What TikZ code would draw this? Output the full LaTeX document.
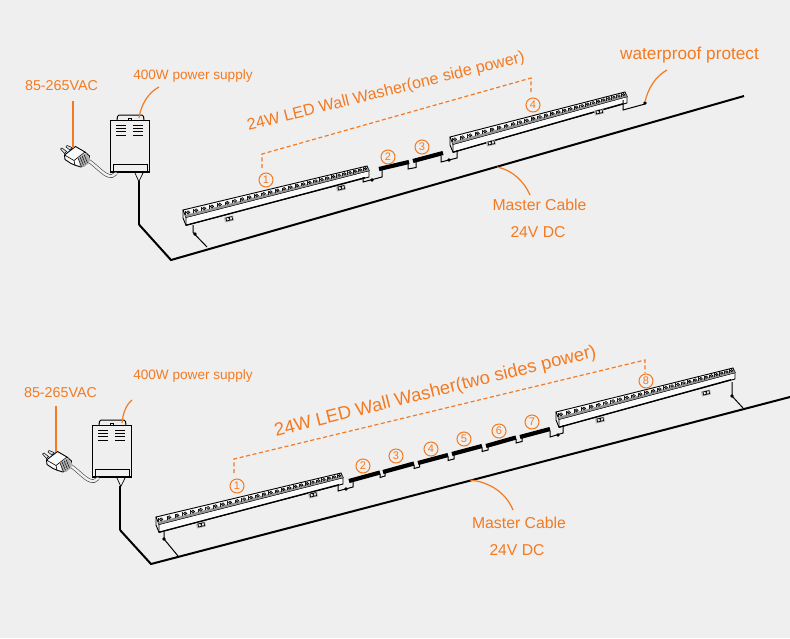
\documentclass[tikz,border=0pt]{standalone}
\usepackage{fontspec}
\setmainfont{Liberation Sans}
\definecolor{bgc}{HTML}{EFEFEF}
\definecolor{org}{HTML}{F47A22}
\newcommand{\fs}[1]{\fontsize{#1}{#1}\selectfont}
\tikzset{
 lbl/.style={text=org,inner sep=0pt,font=\fs{#1}},
 lead/.style={draw=org,line width=1.2pt},
 dashlead/.style={draw=org,line width=1.2pt,dash pattern=on 4pt off 2.6pt},
 num/.style={circle,draw=org,line width=1pt,text=org,inner sep=0pt,minimum size=14pt,font=\fs{11}},
 wirel/.style={draw=black,line width=1pt},
 dark/.style={draw=black,line width=4.2pt},
 blob/.style={fill=black,inner sep=0pt,minimum size=3.6pt,circle}
}
% washer: x0 y0 dx dy-up
\newcommand{\washer}[4]{%
 \pgfmathsetmacro{\sl}{#4/#3}%
 \begin{scope}[shift={(#1,#2)},x={(1pt,\sl pt)},y={(0pt,-1pt)}]
  \def\LL{#3}
  \draw[line width=.9pt,fill=white!70!bgc] (3,8) -- (\LL+2,5) -- (\LL+2,11.5) -- (3,16) -- cycle;
  \draw[line width=.9pt,fill=white!60!bgc] (0,0) -- (\LL,0) -- (\LL+2,5) -- (3,8) -- cycle;
  \fill[black!42] (3,8) -- (\LL+2,5) -- (\LL+1,2.8) -- (2,5.4) -- cycle;
  \draw[line width=.9pt] (0,0) -- (0,8) -- (3,16);
  \draw[line width=1.3pt] (3,16) -- (\LL-2,11.2);
  \foreach \i in {1,...,28}{
   \pgfmathsetmacro{\t}{(\i-.5)/28}
   \pgfmathsetmacro{\u}{\LL*(1.25*\t-.25*\t*\t)+1}
   \pgfmathsetmacro{\v}{3.6-1.4*\t}
   \pgfmathsetmacro{\rr}{1.8-.5*\t}
   \draw[line width=.6pt,black!90] (\u-2.4,\v-1.7) -- (\u-2.4,\v+1.9);
   \draw[line width=.6pt,fill=white] (\u,\v) ellipse ({\rr pt} and {.85*\rr pt});
   \fill[black!80] (\u,\v+.2) ellipse ({.5*\rr pt} and {.45*\rr pt});
  }
 \end{scope}}
\newcommand{\bracket}[2]{%
 \begin{scope}[shift={(#1,#2)}]
  \fill[black!28] (-5,-1.5) -- (4,-3.5) -- (5,1.5) -- (-4,3.5) -- cycle;
  \draw[line width=.7pt,fill=bgc] (-3,-1) -- (-.2,-1.7) -- (.4,1.3) -- (-2.4,2) -- cycle;
  \draw[line width=.7pt,fill=bgc] (.3,-1.8) -- (3,-2.4) -- (3.6,.6) -- (.9,1.2) -- cycle;
 \end{scope}}
% PSU and plug drawn for the top panel, shifted for the bottom one
\newcommand{\psuplug}[2]{%
 \begin{scope}[shift={(#1,#2)}]
  \draw[line width=1pt] (117,120) -- (117.5,116.5) -- (119,115) -- (142,115) -- (143.5,116.5) -- (144,120);
  \draw[line width=.8pt,fill=bgc] (128,120) -- (128,118) -- (131,118) -- (131,120);
  \node[draw=black,line width=1.1pt,fill=bgc,minimum width=38.5pt,minimum height=52pt,inner sep=0pt,anchor=north west] (psu#1) at (110.3,120) {};
  \node[draw=black,line width=1pt,fill=bgc,minimum width=34pt,minimum height=7.5pt,inner sep=0pt,anchor=north west] (psuw#1) at (112.5,164) {};
  \draw[line width=1.8pt] (110.5,172) -- (148.5,172);
  \foreach \yy in {125,128.3,131.6,135.2}{
    \draw[line width=1pt] (116,\yy) -- (126,\yy);
    \draw[line width=1pt] (133,\yy) -- (143,\yy);
  }
  \draw[line width=.7pt] (135,173) -- (138.8,181.5) -- (143,173);
  % cord
  \draw[black!75,line width=3.6pt,line cap=round] (89,161) .. controls (99,168) and (105,177) .. (112,176) -- (116,173.5);
  \draw[bgc!95!white,line width=2.4pt,line cap=round] (89,161) .. controls (99,168) and (105,177) .. (112,176) -- (116,173.5);
  % plug
  \draw[line width=.5pt,fill=black!10] (60.5,149) -- (62,148) -- (66.5,151.5) -- (64.5,153.5) -- cycle;
  \draw[line width=.5pt,fill=black!10] (66,147) -- (67,145.5) -- (72,147.5) -- (70,150) -- cycle;
  \draw[line width=.9pt,fill=white!70!bgc] (64.5,155) -- (75.5,146.5) -- (85,152) -- (89.5,156) -- (88,163) -- (81,167) -- (76,165.5) -- (71,163.5) -- (65,159.5) -- cycle;
  \draw[line width=.6pt] (64.5,155) -- (74,160.5) -- (85,152);
  \draw[line width=.6pt] (74,160.5) -- (75,165.5);
  \fill[black!32] (78,158) -- (86,153) -- (90,159) -- (89,163) -- (84,167) -- (80,166) -- cycle;
  \foreach \d in {0,2,4,6}{
    \draw[line width=.45pt] (78+\d,158-.6*\d) -- (81.5+\d,166.5-.6*\d);
  }
 \end{scope}}
\begin{document}
\begin{tikzpicture}[x=1pt,y=-1pt]
\useasboundingbox[fill=bgc] (0,0) rectangle (790,638);
%%%% TOP PANEL
\coordinate (tc0) at (139,181);
\coordinate (tc1) at (139,224.5);
\coordinate (tc2) at (171,260);
\coordinate (tc3) at (744,96);
\draw[line width=2pt] (tc1) -- (tc2) -- (tc3);
\draw[line width=2.6pt] (tc0) -- (tc1);
\psuplug{0}{0}
\washer{183}{210}{184}{44}
\washer{450}{137}{175}{45}
\bracket{229}{219}\bracket{341}{188}\bracket{491}{143}\bracket{599}{112}
% wires
\draw[wirel] (193,225) -- (193,232.5) -- (207,247);
\node[blob] (tb0) at (195,234) {};
\draw[wirel] (363,177) -- (363,182) -- (382,177) -- (382,170);
\node[blob] (tb1) at (372,180) {};
\draw[dark] (379,169) -- (409,162);
\draw[dark] (413,161) -- (443,153);
\draw[wirel] (408,163) -- (408,169) -- (416,167.5) -- (416,161);
\draw[wirel] (441,156) -- (441,162) -- (457,158) -- (457,150);
\node[blob] (tb2) at (449,160) {};
\draw[wirel] (623,100) -- (623,110) -- (645,104);
\node[blob] (tb3) at (645,103) {};
% labels
\node[lbl=14.3] (t85) at (61.5,86) {85-265VAC};
\node[lbl=13.6] (t400) at (193,76) {400W power supply};
\node[lbl=16.2,rotate=14] (ttitle) at (386,92) {24W LED Wall Washer(one side power)};
\node[lbl=17.2] (twp) at (689.5,55) {waterproof protect};
\node[lbl=15.8] (tmc) at (539.5,205) {Master Cable};
\node[lbl=15.7] (tdc) at (538,232) {24V DC};
\draw[lead] (73,101) -- (73,148);
\draw[lead] (139,118) .. controls (141,104) and (149,92) .. (159,87);
\draw[lead] (645,102) .. controls (648,88) and (656,76) .. (667,70);
\draw[lead] (497,167) .. controls (512,170) and (524,181) .. (530,195);
\draw[dashlead] (262,168) -- (262,154) -- (531,78) -- (531,92);
\node[num] (tn1) at (266,180) {1};
\node[num] (tn2) at (388,157) {2};
\node[num] (tn3) at (422,147) {3};
\node[num] (tn4) at (533,105) {4};
%%%% BOTTOM PANEL
\coordinate (bc0) at (120,486);
\coordinate (bc1) at (120,530);
\coordinate (bc2) at (151,564);
\coordinate (bc3) at (790,397);
\draw[line width=2pt] (bc1) -- (bc2) -- (bc3);
\draw[line width=2.6pt] (bc0) -- (bc1);
\psuplug{-18}{305}
\washer{156}{517}{185}{44}
\washer{556}{412}{177}{44}
\bracket{201}{525}\bracket{313}{495}\bracket{600}{420}\bracket{706}{393}
\draw[wirel] (164,532) -- (164,539) -- (178,556);
\node[blob] (bb0) at (164,539) {};
\draw[wirel] (338,486) -- (338,491) -- (353,487) -- (353,480);
\node[blob] (bb1) at (346,489) {};
\draw[dark] (349,481) -- (380,472.5);
\draw[dark] (383,472) -- (414,463.5);
\draw[dark] (418,463) -- (448,455);
\draw[dark] (452,454) -- (482,446);
\draw[dark] (486,446) -- (516,437.5);
\draw[dark] (520,437) -- (550,429);
\draw[wirel] (380,474) -- (380,477.5) -- (385,476) -- (385,472);
\draw[wirel] (414,465) -- (414,468.5) -- (419.5,467) -- (419.5,463);
\draw[wirel] (448,456.5) -- (448,460.5) -- (454,459) -- (454,454.5);
\draw[wirel] (482,447.5) -- (482,451.5) -- (488,450) -- (488,446);
\draw[wirel] (516,439) -- (516,443) -- (522,441.5) -- (522,437.5);
\draw[wirel] (550,431) -- (550,437) -- (563,433) -- (563,425);
\node[blob] (bb2) at (558,435) {};
\draw[wirel] (732,382) -- (732,396) -- (743,408);
\node[blob] (bb3) at (732,396) {};
\node[lbl=14.3] (b85) at (60.5,393) {85-265VAC};
\node[lbl=13.6] (b400) at (193,376) {400W power supply};
\node[lbl=18.4,rotate=14] (btitle) at (435.5,392) {24W LED Wall Washer(two sides power)};
\node[lbl=15.8] (bmc) at (519,523) {Master Cable};
\node[lbl=15.7] (bdc) at (517,550) {24V DC};
\draw[lead] (56,406) -- (56,452);
\draw[lead] (122,423) .. controls (123,413) and (126,405) .. (132,400);
\draw[lead] (470,480) .. controls (490,482) and (506,493) .. (513,510);
\draw[dashlead] (234,473) -- (234,459) -- (645,360) -- (645,373);
\node[num] (bn1) at (237,486) {1};
\node[num] (bn2) at (363,466) {2};
\node[num] (bn3) at (396,456) {3};
\node[num] (bn4) at (431,449) {4};
\node[num] (bn5) at (464,439) {5};
\node[num] (bn6) at (499,431) {6};
\node[num] (bn7) at (532,422) {7};
\node[num] (bn8) at (646,381) {8};
\end{tikzpicture}
\end{document}
